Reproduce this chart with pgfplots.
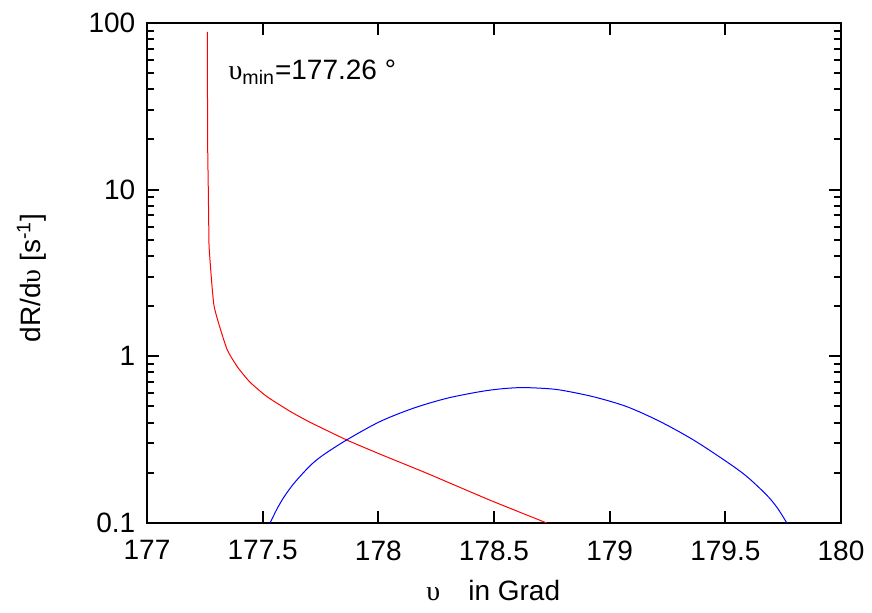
\documentclass[border=0pt]{standalone}
\usepackage{fontspec}
\setmainfont{Liberation Sans}
\newfontfamily\grk{Liberation Serif}
\usepackage{pgfplots}
\pgfplotsset{compat=1.18}

% rate curve (red) and angular distribution (blue)
\pgfplotstableread{
x       y
177.261 88.5
177.262 20
177.265 10
177.267 6
177.269 4.4
177.290 2.0
177.345 1.11
177.392 0.86
177.445 0.70
177.517 0.575
177.618 0.468
177.705 0.402
177.863 0.315
178.007 0.259
178.209 0.199
178.483 0.137
178.728 0.10
}\redcurve

\pgfplotstableread{
x       y
177.532 0.100
177.560 0.120
177.589 0.141
177.625 0.166
177.661 0.190
177.710 0.224
177.762 0.256
177.863 0.315
178.007 0.406
178.151 0.488
178.296 0.560
178.440 0.614
178.530 0.638
178.613 0.649
178.700 0.644
178.786 0.628
178.930 0.572
179.074 0.499
179.218 0.406
179.362 0.315
179.506 0.233
179.593 0.190
179.679 0.147
179.725 0.123
179.766 0.100
}\bluecurve

\begin{document}
\fontsize{14}{17}\selectfont
\begin{tikzpicture}
\begin{axis}[
  scale only axis,
  width=347pt, height=250pt,
  ymode=log,
  xmin=177, xmax=180, ymin=0.1, ymax=100,
  xtick={177,177.5,178,178.5,179,179.5,180},
  xticklabels={177,177.5,178,178.5,179,179.5,180},
  ytick={0.1,1,10,100},
  yticklabels={0.1,1,10,100},
  minor x tick num=0,
  tick align=inside,
  major tick length=6pt,
  minor tick length=3.5pt,
  axis line style={line width=1pt},
  every tick/.style={black, line width=1pt},
  /pgf/number format/assume math mode=true,
  ticklabel style={font=\fontsize{14}{17}\selectfont},
  xticklabel style={yshift=-4pt},
  yticklabel style={xshift=-1pt},
  xlabel={{\grk υ}\quad in Grad},
  ylabel={dR/d{\grk υ} [s\textsuperscript{-1}]},
  label style={font=\fontsize{14}{17}\selectfont},
  xlabel style={at={(axis description cs:0.499,-0.134)}, anchor=center},
  ylabel style={at={(axis description cs:-0.166,0.49)}, anchor=center, rotate=0},
]
\addplot[red, line width=0.5pt, smooth, tension=0.3] table[x=x, y=y] {\redcurve};
\addplot[blue, line width=0.5pt, smooth] table[x=x, y=y] {\bluecurve};
\node[anchor=base west, inner sep=0pt, font=\fontsize{14}{17}\selectfont]
  at (rel axis cs:0.117,0.886) {{\grk υ}\textsubscript{min}=177.26 °};
\end{axis}
\pgfresetboundingbox
\path[use as bounding box] (-73.5pt,-45pt) rectangle (362.5pt,261.5pt);
\end{tikzpicture}
\end{document}
